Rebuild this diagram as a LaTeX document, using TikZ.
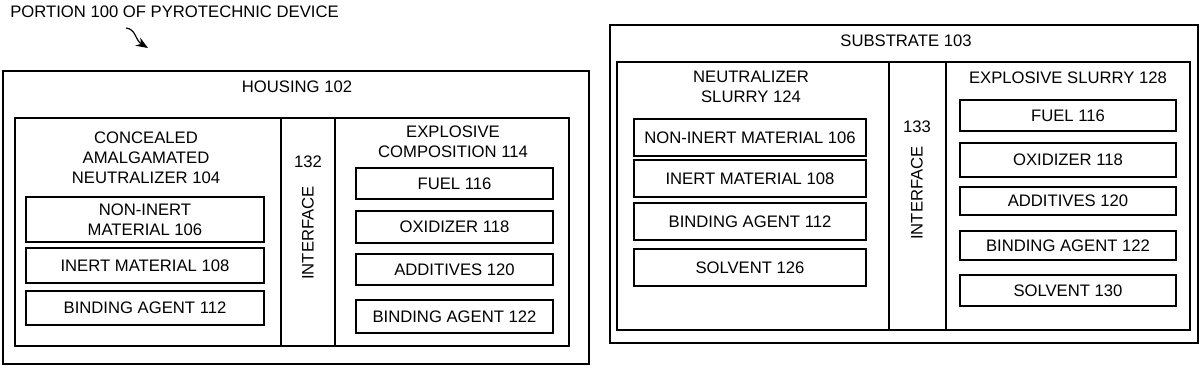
\documentclass[tikz,border=0pt]{standalone}
\usepackage{fontspec}
\setmainfont{Liberation Sans}
\usetikzlibrary{fit,arrows.meta}
\tikzset{
	frame/.style={draw, line width=1.1pt, inner sep=0pt},
	item/.style={draw, line width=1.4pt, inner sep=0pt},
	caption/.style={align=center, inner sep=0pt},
}
\begin{document}
\begin{tikzpicture}[x=0.75pt, y=-0.75pt, font=\fontsize{12.5}{15}\selectfont]
		\useasboundingbox (0,0) rectangle (1200,368);
		%draw title and reference arrow
		\node[caption, anchor=west] (title) at (10,12) {PORTION 100 OF PYROTECHNIC DEVICE};
		\coordinate (arrstart) at (126,28);
		\coordinate (arrend) at (148,48);
		\draw[-{Stealth[length=9pt,width=7pt]}, line width=0.9pt] (arrstart) .. controls (136,29) and (135,40) .. (arrend);
		
		%draw housing
		\node[frame, fit={(3,71) (589,364)}] (housing) {};
		\node[caption] (housinglabel) at (297,87) {HOUSING 102};
		\node[frame, fit={(15,118) (281,346)}] (neutralizer) {};
		\node[frame, fit={(281,118) (335,346)}] (ifaceA) {};
		\node[frame, fit={(335,118) (569,346)}] (explosive) {};
		\node[caption] (neutralizerlabel) at (146,158) {CONCEALED\\AMALGAMATED\\NEUTRALIZER 104};
		\node[caption] (ifaceAnum) at (308,162) {132};
		\node[caption, rotate=90] (ifaceAlabel) at (308,233) {INTERFACE};
		\node[caption] (explosivelabel) at (453,142) {EXPLOSIVE\\COMPOSITION 114};
		%draw neutralizer parts
		\node[item, fit={(26,197) (264,242)}, label={[caption]center:{NON-INERT\\MATERIAL 106}}] (noninertA) {};
		\node[item, fit={(26,248) (264,283)}, label={[caption]center:INERT MATERIAL 108}] (inertA) {};
		\node[item, fit={(26,291) (264,325)}, label={[caption]center:BINDING AGENT 112}] (bindA) {};
		%draw explosive parts
		\node[item, fit={(356,168) (553,199)}, label={[caption]center:FUEL 116}] (fuelA) {};
		\node[item, fit={(356,211) (553,243)}, label={[caption]center:OXIDIZER 118}] (oxidizerA) {};
		\node[item, fit={(356,254) (553,285)}, label={[caption]center:ADDITIVES 120}] (additivesA) {};
		\node[item, fit={(356,300) (553,333)}, label={[caption]center:BINDING AGENT 122}] (bindB) {};
		
		%draw substrate
		\node[frame, fit={(610,25) (1198,343)}] (substrate) {};
		\node[caption] (substratelabel) at (906,41) {SUBSTRATE 103};
		\node[frame, fit={(617,62) (889,330)}] (neutslurry) {};
		\node[frame, fit={(889,62) (946,330)}] (ifaceB) {};
		\node[frame, fit={(946,62) (1190,330)}] (explslurry) {};
		\node[caption] (neutslurrylabel) at (751,87) {NEUTRALIZER\\SLURRY 124};
		\node[caption] (ifaceBnum) at (917,127) {133};
		\node[caption, rotate=90] (ifaceBlabel) at (917,193) {INTERFACE};
		\node[caption] (explslurrylabel) at (1068,78) {EXPLOSIVE SLURRY 128};
		%draw slurry parts
		\node[item, fit={(634,119) (866,156)}, label={[caption]center:NON-INERT MATERIAL 106}] (noninertB) {};
		\node[item, fit={(634,160) (866,197)}, label={[caption]center:INERT MATERIAL 108}] (inertB) {};
		\node[item, fit={(634,203) (866,240)}, label={[caption]center:BINDING AGENT 112}] (bindC) {};
		\node[item, fit={(634,249) (866,286)}, label={[caption]center:SOLVENT 126}] (solventA) {};
		\node[item, fit={(960,100) (1176,131)}, label={[caption]center:FUEL 116}] (fuelB) {};
		\node[item, fit={(960,143) (1176,177)}, label={[caption]center:OXIDIZER 118}] (oxidizerB) {};
		\node[item, fit={(960,187) (1176,215)}, label={[caption]center:ADDITIVES 120}] (additivesB) {};
		\node[item, fit={(960,231) (1176,260)}, label={[caption]center:BINDING AGENT 122}] (bindD) {};
		\node[item, fit={(960,275) (1176,306)}, label={[caption]center:SOLVENT 130}] (solventB) {};
		
	\end{tikzpicture}
\end{document}
